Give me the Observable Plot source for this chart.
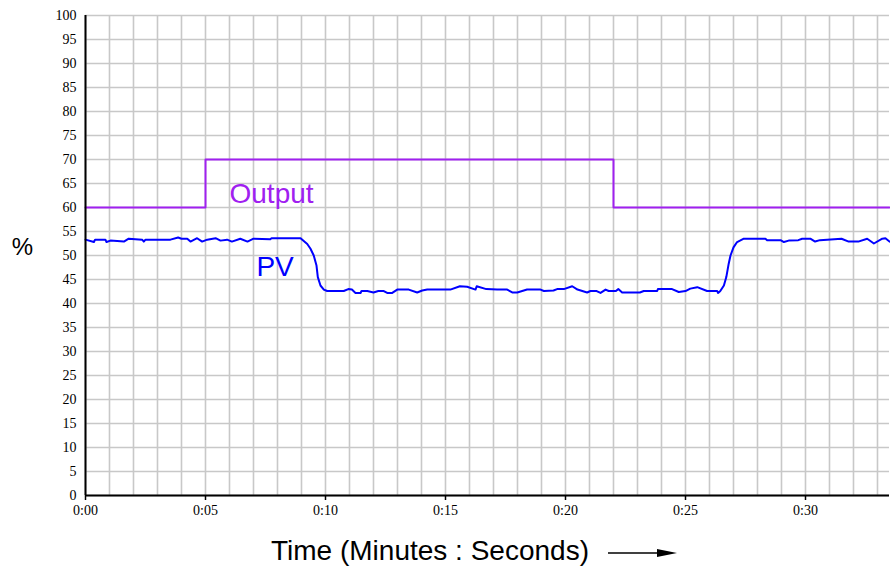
<!DOCTYPE html>
<html>
<head>
<meta charset="utf-8">
<script src="https://cdn.jsdelivr.net/npm/d3@7"></script>
<script src="https://cdn.jsdelivr.net/npm/@observablehq/plot@0.6"></script>
<style>
  html, body { margin: 0; padding: 0; background: white; }
  #wrap { position: relative; width: 890px; height: 569px; }
  #title { position: absolute; left: 271px; top: 535px; font-family: "Liberation Sans", Arial, sans-serif; font-size: 28px; line-height: 32px; color: black; white-space: nowrap; }
  #arrow { position: absolute; left: 607px; top: 545px; }
</style>
</head>
<body>
<div id="wrap"></div>
<script>
// PV trace (seconds, percent)
const pvTimes = [0, 0.35, 0.4, 0.83, 0.875, 1.04, 1.6, 1.8, 2.36, 2.43, 2.5, 3.54, 3.86, 4.0, 4.24, 4.375, 4.65, 4.86, 5.07, 5.42, 5.625, 5.9, 6.1, 6.45, 6.75, 7.0, 7.7, 7.75, 8.96, 9.24, 9.375, 9.51, 9.625, 9.68, 9.79, 9.93, 10.07, 10.76, 10.95, 11.1, 11.25, 11.46, 11.5, 11.74, 12.0, 12.2, 12.43, 12.57, 12.78, 12.99, 13.47, 13.82, 14.03, 14.24, 15.2, 15.6, 15.9, 16.25, 16.3, 16.7, 17.15, 17.57, 17.78, 17.99, 18.4, 18.96, 19.1, 19.5, 19.65, 19.93, 20.28, 20.5, 20.9, 21.04, 21.3, 21.46, 21.67, 21.8, 22.1, 22.2, 22.36, 23.1, 23.26, 23.82, 23.85, 24.44, 24.72, 25.0, 25.2, 25.49, 25.9, 26.32, 26.36, 26.45, 26.6, 26.7, 26.8, 26.875, 27.0, 27.15, 27.43, 28.33, 28.4, 28.96, 29.1, 29.3, 29.7, 29.86, 30.2, 30.4, 30.6, 31.2, 31.5, 31.8, 32.2, 32.57, 32.85, 33.2, 33.33, 33.5];
const pvValues = [53.3, 52.8, 53.3, 53.3, 52.8, 53.1, 52.9, 53.5, 53.3, 52.9, 53.3, 53.3, 53.75, 53.5, 53.5, 52.9, 53.6, 52.9, 53.3, 53.6, 53.1, 53.3, 52.9, 53.5, 52.9, 53.5, 53.4, 53.6, 53.6, 52.4, 51.4, 50.0, 47.9, 45.5, 43.75, 42.9, 42.6, 42.6, 43.0, 42.9, 42.2, 42.2, 42.6, 42.6, 42.3, 42.6, 42.6, 42.2, 42.2, 42.9, 42.9, 42.3, 42.7, 42.9, 42.9, 43.6, 43.5, 42.9, 43.6, 43.0, 42.9, 42.9, 42.3, 42.3, 42.9, 42.9, 42.6, 42.7, 43.0, 43.0, 43.6, 42.9, 42.3, 42.6, 42.6, 42.2, 42.9, 42.6, 42.6, 43.0, 42.3, 42.3, 42.6, 42.6, 43.0, 43.0, 42.4, 42.6, 43.1, 43.4, 42.6, 42.6, 42.2, 42.6, 43.75, 45.5, 48.3, 50.0, 51.7, 52.8, 53.5, 53.5, 53.2, 53.2, 52.8, 53.1, 53.2, 53.5, 53.5, 52.9, 53.2, 53.4, 53.5, 52.9, 52.9, 53.5, 52.5, 53.5, 53.6, 52.9];

// Controller output (step changes)
const outTimes = [0, 5, 22, 33.5];
const outValues = [60, 70, 60, 60];

// Axis ticks
const xTicks = [0, 5, 10, 15, 20, 25, 30];
const yTicks = d3.range(0, 101, 5);
const xGrid = d3.range(0, 34, 1);

const pvData = pvTimes.map((t, i) => ({t, v: pvValues[i]}));
const outData = outTimes.map((t, i) => ({t, v: outValues[i]}));

const fmt = d => `0:${String(d).padStart(2, "0")}`;
const sans = "Liberation Sans, Arial, sans-serif";
const serif = "Liberation Serif, Times New Roman, serif";
const purple = "#a020f0";
const blue = "#0000ff";

const chart = Plot.plot({
  width: 890,
  height: 530,
  marginLeft: 85,
  marginRight: 1,
  marginTop: 15,
  marginBottom: 35,
  style: {fontFamily: serif, fontSize: "14px", background: "white", color: "black"},
  x: {domain: [0, 33.5]},
  y: {domain: [0, 100]},
  marks: [
    Plot.ruleX(xGrid, {stroke: "#c8c8c8", strokeWidth: 1.6}),
    Plot.ruleY(yTicks, {stroke: "#c8c8c8", strokeWidth: 1.6}),
    Plot.line(outData, {x: "t", y: "v", curve: "step-after", stroke: purple, strokeWidth: 2}),
    Plot.line(pvData, {x: "t", y: "v", stroke: blue, strokeWidth: 2}),
    Plot.ruleX([0], {stroke: "black", strokeWidth: 2}),
    Plot.ruleY([0], {stroke: "black", strokeWidth: 2}),
    Plot.axisX({ticks: xTicks, tickFormat: fmt, tickSize: 5, tickPadding: 5, strokeWidth: 1.5, label: null, fontFamily: serif, fontSize: 14}),
    Plot.axisY({ticks: yTicks, tickSize: 0, tickPadding: 9, label: null, fontFamily: serif, fontSize: 14}),
    Plot.text(["Output"], {x: 6.0, y: 62.9, text: d => d, textAnchor: "start", fill: purple, fontFamily: sans, fontSize: 28}),
    Plot.text(["PV"], {x: 7.12, y: 47.6, text: d => d, textAnchor: "start", fill: blue, fontFamily: sans, fontSize: 28}),
    Plot.text(["%"], {frameAnchor: "left", y: 51.7, text: d => d, dx: -63, textAnchor: "middle", fill: "black", fontFamily: sans, fontSize: 24})
  ]
});

const wrap = document.getElementById("wrap");
wrap.appendChild(chart);
const title = document.createElement("div");
title.id = "title";
title.textContent = "Time (Minutes : Seconds)";
wrap.appendChild(title);
const arrow = document.createElement("div");
arrow.id = "arrow";
arrow.innerHTML = '<svg width="72" height="16"><line x1="1" y1="8" x2="56" y2="8" stroke="black" stroke-width="1.5"/><polygon points="50,4 70,8 50,12" fill="black"/></svg>';
wrap.appendChild(arrow);
</script>
</body>
</html>
